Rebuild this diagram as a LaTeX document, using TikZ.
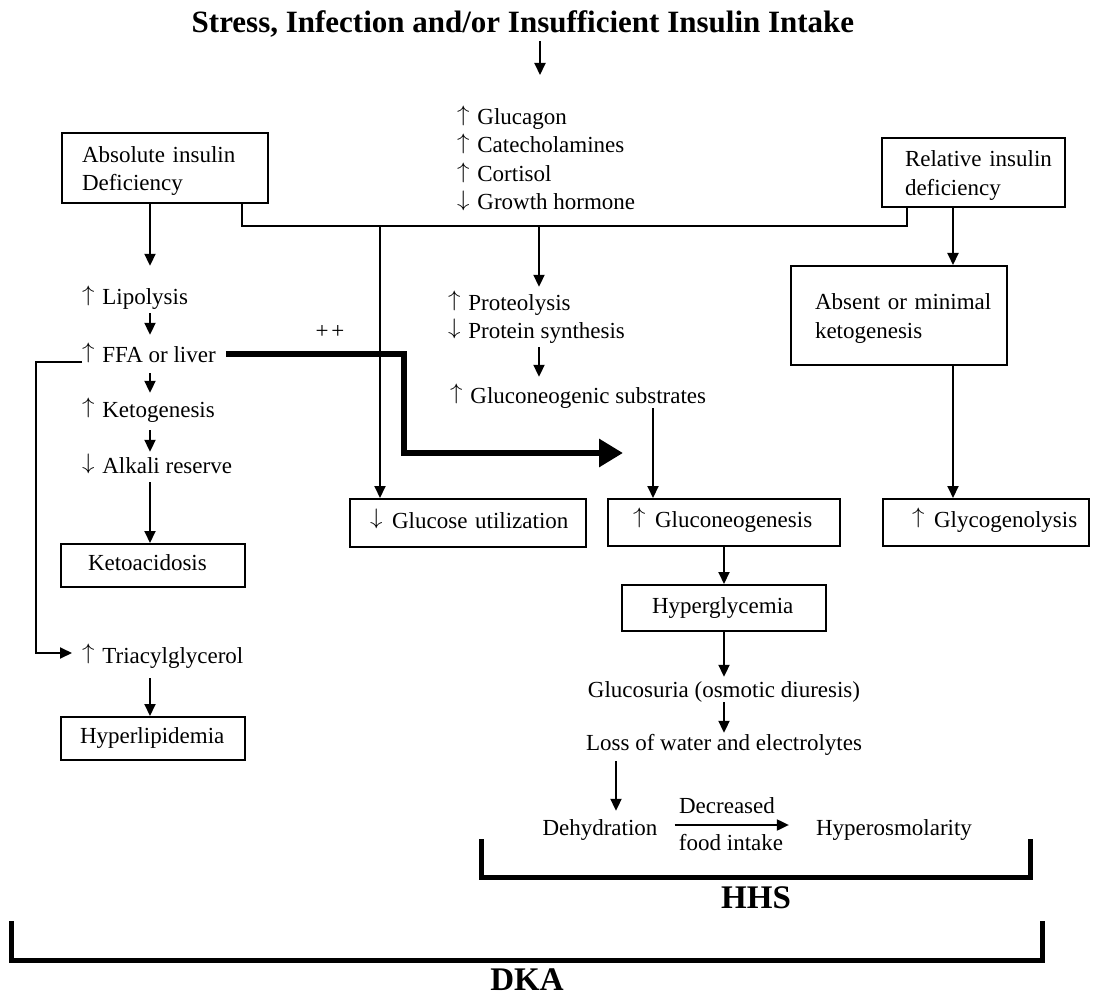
\documentclass[tikz,border=0pt]{standalone}
\usepackage{fontspec}
\usepackage{graphicx}
\setmainfont{Liberation Serif}
\usetikzlibrary{arrows.meta}
\newcommand{\UpA}{\scalebox{1}[0.9]{\raisebox{0.19em}{$\uparrow$}}\kern2pt}
\newcommand{\DnA}{\scalebox{1}[0.9]{\raisebox{0.19em}{$\downarrow$}}\kern2pt}
\begin{document}
\begin{tikzpicture}[x=1pt,y=-1pt,
  every node/.style={inner sep=0pt, font=\fontsize{23}{28.5}\selectfont},
  txt/.style={anchor=base west, text height=15pt, text depth=5pt},
  ctr/.style={anchor=base, text height=15pt, text depth=5pt},
  box/.style={draw, line width=2pt, align=left},
  one/.style={text height=15pt, text depth=5pt},
  ln/.style={line width=2pt},
  arr/.style={line width=2pt, -{Triangle[length=12pt,width=11pt]}},
  thk/.style={line width=6pt, -{Triangle[length=24pt,width=27pt]}},
  brk/.style={line width=5pt},
  ttl/.style={font=\fontsize{31}{36}\selectfont\bfseries, anchor=base},
  big/.style={font=\fontsize{33}{38}\selectfont\bfseries, anchor=base},
]
\useasboundingbox (0,0) rectangle (1093,995);

% title and hormones
\node[ttl] (title) at (523,33) {Stress, Infection and/or Insufficient Insulin Intake};
\coordinate (t1) at (540,75);
\draw[arr] ([yshift=-3pt]title.south -| t1) -- (t1);
\node[txt] (glc) at (457,125) {\UpA\ Glucagon};
\node[txt] (cat) at (457,153) {\UpA\ Catecholamines};
\node[txt] (cor) at (457,182) {\UpA\ Cortisol};
\node[txt] (gh)  at (457,210) {\DnA\ Growth hormone};

% boxes
\node[box, text width=206pt, minimum height=70pt] (abs) at (165,168)
  {\rule{0pt}{22pt}\hspace*{20pt}Absolute insulin\\\hspace*{20pt}Deficiency};
\node[box, text width=183pt, minimum height=69pt] (rel) at (973.5,172.5)
  {\rule{0pt}{22pt}\hspace*{23pt}Relative insulin\\\hspace*{23pt}deficiency};
\node[box, text width=216pt, minimum height=99pt] (absent) at (899,315.5)
  {\rule{0pt}{22pt}\hspace*{24pt}Absent or minimal\\\hspace*{24pt}ketogenesis};
\node[box, one, text width=236pt, minimum height=48pt] (gut) at (468,523) {\hspace*{20pt}\DnA\ Glucose utilization};
\node[box, one, text width=232pt, minimum height=47pt] (gng) at (724,522.5) {\hspace*{25pt}\UpA\ Gluconeogenesis};
\node[box, one, text width=206pt, minimum height=47pt] (gly) at (986,522.5) {\hspace*{29pt}\UpA\ Glycogenolysis};
\node[box, one, text width=184pt, minimum height=43pt] (keto) at (153,565.5) {\hspace*{27pt}Ketoacidosis};
\node[box, one, text width=184pt, minimum height=43pt] (hlip) at (153,738.5) {\hspace*{19pt}Hyperlipidemia};
\node[box, one, text width=204pt, minimum height=46pt] (hyg) at (724,608) {\hspace*{30pt}Hyperglycemia};

% free texts
\node[txt] (lip) at (82,305) {\UpA\ Lipolysis};
\node[txt] (ffa) at (82,362) {\UpA\ FFA or liver};
\node[txt] (ket) at (82,417) {\UpA\ Ketogenesis};
\node[txt] (alk) at (82,473) {\DnA\ Alkali reserve};
\node[txt] (tri) at (82,663) {\UpA\ Triacylglycerol};
\node[txt] (pro) at (448,310) {\UpA\ Proteolysis};
\node[txt] (psy) at (448,338) {\DnA\ Protein synthesis};
\node[txt] (sub) at (450,403) {\UpA\ Gluconeogenic substrates};
\node[ctr] (gsu) at (724,697) {Glucosuria (osmotic diuresis)};
\node[ctr] (loss) at (724,750) {Loss of water and electrolytes};
\node[ctr] (deh) at (600,835) {Dehydration};
\node[ctr] (hos) at (894,835) {Hyperosmolarity};
\node[ctr] (dec) at (727,813) {Decreased};
\node[ctr] (food) at (731,850) {food intake};
\node[ctr] (pp) at (330,338) {+\kern3pt+};
\node[big] (hhs) at (756,908) {HHS};
\node[big] (dka) at (527,990) {DKA};

% left column
\coordinate (lc) at (150,0);
\draw[arr] (abs.south -| lc) -- ([yshift=24pt]lip.north -| lc);
\draw[arr] ([yshift=-3pt]lip.south -| lc) -- ([yshift=12pt]ffa.north -| lc);
\draw[arr] ([yshift=-6pt]ffa.south -| lc) -- ([yshift=9pt]ket.north -| lc);
\draw[arr] ([yshift=-8pt]ket.south -| lc) -- ([yshift=6pt]alk.north -| lc);
\draw[arr] ([yshift=-4pt]alk.south -| lc) -- (keto.north -| lc);
\draw[arr] ([yshift=-10pt]tri.south -| lc) -- (hlip.north -| lc);
\draw[arr] ([yshift=-5pt]ffa.west) -- ++(-46pt,0) |- ([shift={(-10pt,5pt)}]tri.west);

% thick arrow
\coordinate (k1) at (404,453);
\coordinate (k2) at (623,453);
\draw[thk] ([shift={(10pt,3pt)}]ffa.east) -| (k1) -- (k2);

% branching line
\coordinate (jL) at (242,226);
\coordinate (jR) at (907,226);
\draw[ln] (abs.south -| jL) -- (jL) -- (jR) -- (rel.south -| jR);
\coordinate (j1) at (380,226);
\draw[arr] (j1) -- (gut.north -| j1);
\coordinate (j2) at (539,226);
\draw[arr] (j2) -- ([yshift=8pt]pro.north -| j2);
\draw[arr] ([yshift=-4pt]psy.south -| j2) -- ([yshift=11pt]sub.north -| j2);
\coordinate (j3) at (653,0);
\draw[arr] (sub.south -| j3) -- (gng.north -| j3);

% middle chain
\draw[arr] (gng.south) -- (hyg.north);
\draw[arr] (hyg.south) -- ([yshift=5pt]gsu.north);
\draw[arr] (gsu.south) -- ([yshift=2pt]loss.north);
\coordinate (j4) at (616,0);
\draw[arr] ([yshift=-6pt]loss.south -| j4) -- ([yshift=9pt]deh.north -| j4);
\draw[arr] ([shift={(17pt,5pt)}]deh.east) -- ([shift={(-27pt,5pt)}]hos.west);

% right column
\coordinate (j5) at (953,0);
\draw[arr] (rel.south -| j5) -- (absent.north -| j5);
\draw[arr] (absent.south -| j5) -- (gly.north -| j5);

% brackets
\draw[brk] (481,839) -- (481,877) -- (1030,877) -- (1030,839);
\draw[brk] (11,921) -- (11,960) -- (1042,960) -- (1042,921);
\end{tikzpicture}
\end{document}
